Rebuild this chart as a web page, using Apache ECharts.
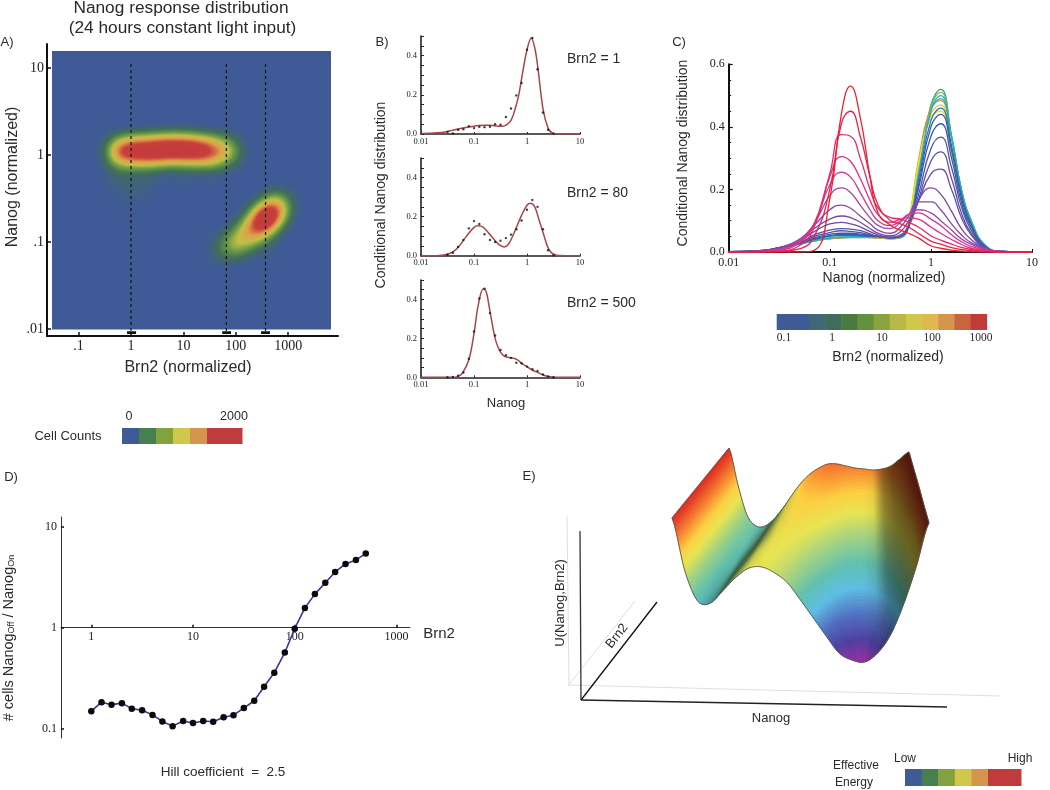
<!DOCTYPE html>
<html><head><meta charset="utf-8">
<style>html,body{margin:0;padding:0;background:#fff}#c{width:1050px;height:790px}</style>
<script src="https://cdn.jsdelivr.net/npm/echarts@6/dist/echarts.min.js"></script>
</head><body><div id="c"></div>
<script>
// ---------- Panel A: [log10 Brn2, log10 Nanog, cell count]
const heatPoints = [
 [-0.2,0.04,950],[0.06,0.05,1000],[0.29,0.05,1000],[0.52,0.06,1000],[0.74,0.07,1000],[0.97,0.07,1000],[1.2,0.06,1000],[1.43,0.05,900],[1.66,0.05,560],[1.85,0.04,440],
 [-0.25,-0.2,120],[0.1,-0.25,120],[0.45,-0.2,100],[1,-0.18,100],[1.5,-0.15,100],
 [-0.15,-0.42,55],[0.2,-0.44,45],
 [1.75,-1.08,170],[1.95,-1.03,290],[2.1,-0.98,410],[2.27,-0.88,560],[2.45,-0.79,850],[2.6,-0.71,1100],[2.74,-0.63,680],[2.83,-0.55,290],[2.55,-0.98,140]
];
const sliceBrn2 = [1, 66, 369];
const sliceBars = [[0.84,1.25],[55,81],[303,448]];
const aXTicks = [0.1,1,10,100,1000], aXLabels = ['.1','1','10','100','1000'];
const aYTicks = [0.01,0.1,1,10], aYLabels = ['.01','.1','1','10'];
const countColors = ['#3f5a96','#47804f','#83a13f','#d0c84a','#d6954d','#c03c3c'];
const countWidths = [17,17,17,17,17,35];

// ---------- Panel B
const b1CurveX = [0.01,0.02,0.03,0.05,0.07,0.1,0.15,0.2,0.3,0.35,0.4,0.5,0.6,0.7,0.8,1,1.2,1.4,1.6,2,2.5,3,4,10];
const b1CurveY = [0.002,0.006,0.012,0.025,0.033,0.04,0.045,0.045,0.04,0.04,0.045,0.07,0.13,0.2,0.29,0.43,0.49,0.44,0.34,0.13,0.03,0.005,0,0];
const b2CurveX = [0.01,0.02,0.03,0.04,0.05,0.07,0.1,0.12,0.15,0.2,0.25,0.3,0.37,0.45,0.6,0.8,1,1.15,1.4,1.7,2,2.5,3,4,10];
const b2CurveY = [0,0,0.006,0.02,0.042,0.095,0.145,0.153,0.145,0.108,0.077,0.055,0.045,0.06,0.13,0.21,0.258,0.268,0.25,0.18,0.12,0.04,0.012,0.001,0];
const b3CurveX = [0.01,0.04,0.05,0.06,0.08,0.1,0.12,0.15,0.17,0.2,0.25,0.3,0.35,0.4,0.5,0.6,0.7,0.8,1,1.3,1.6,2,2.5,3,4,10];
const b3CurveY = [0,0,0.005,0.02,0.09,0.225,0.37,0.455,0.44,0.34,0.2,0.14,0.115,0.105,0.1,0.095,0.085,0.07,0.055,0.035,0.025,0.012,0.004,0.001,0,0];
const bDotX = [0.0316,0.04,0.05,0.063,0.08,0.1,0.126,0.158,0.2,0.25,0.316,0.4,0.5,0.63,0.79,1,1.26,1.58,2,2.5,3.16];
const b1DotY = [0.01,0.003,0.022,0.024,0.04,0.03,0.037,0.035,0.037,0.05,0.047,0.087,0.13,0.197,0.26,0.43,0.49,0.33,0.11,0.022,0.002];
const b2DotY = [0.005,0.015,0.045,0.08,0.14,0.177,0.162,0.11,0.08,0.07,0.077,0.09,0.108,0.135,0.18,0.235,0.285,0.25,0.135,0.028,0.002];
const b3DotY = [0,0.002,0.008,0.025,0.095,0.235,0.405,0.455,0.33,0.215,0.14,0.113,0.1,0.075,0.072,0.055,0.042,0.033,0.015,0.005,0];

// ---------- Panel C
const cX = [0.01,0.02,0.03,0.05,0.07,0.1,0.13,0.16,0.2,0.25,0.3,0.4,0.5,0.6,0.75,1,1.25,1.6,2,2.5,3.5,5,10];
const cCurves = [
 ['#3f9f6a',[.001,.003,.01,.025,.035,.042,.045,.046,.046,.046,.045,.042,.045,.085,.26,.47,.52,.37,.2,.1,.018,.002,0]],
 ['#70c070',[.001,.003,.01,.025,.035,.043,.046,.047,.047,.047,.046,.043,.046,.085,.255,.465,.51,.37,.2,.1,.018,.002,0]],
 ['#f08a30',[.001,.003,.01,.025,.036,.043,.046,.047,.047,.046,.045,.043,.048,.098,.29,.46,.485,.33,.17,.08,.014,.001,0]],
 ['#e0d020',[.001,.003,.01,.025,.037,.044,.047,.048,.048,.047,.046,.044,.05,.1,.28,.44,.47,.32,.165,.078,.013,.001,0]],
 ['#f0e020',[.001,.003,.01,.025,.037,.045,.048,.049,.049,.048,.047,.044,.05,.1,.275,.43,.45,.31,.16,.075,.013,.001,0]],
 ['#30b0a8',[.001,.003,.01,.025,.036,.044,.047,.048,.048,.048,.047,.045,.048,.08,.24,.455,.5,.37,.2,.1,.019,.002,0]],
 ['#28b0c8',[.001,.003,.01,.026,.037,.045,.048,.049,.049,.049,.048,.046,.049,.08,.235,.45,.49,.365,.2,.1,.019,.002,0]],
 ['#2f70b8',[.001,.003,.011,.026,.04,.05,.053,.053,.052,.05,.049,.046,.05,.082,.225,.42,.46,.34,.185,.09,.017,.002,0]],
 ['#3a5cb0',[.001,.004,.011,.027,.042,.052,.056,.056,.054,.052,.05,.046,.05,.08,.21,.4,.44,.325,.175,.085,.016,.002,0]],
 ['#3f58aa',[.001,.004,.012,.028,.045,.056,.06,.06,.057,.053,.05,.045,.05,.08,.2,.37,.41,.3,.16,.08,.015,.002,0]],
 ['#4c54aa',[.001,.004,.012,.03,.05,.062,.068,.066,.062,.055,.05,.045,.05,.08,.18,.33,.367,.27,.145,.07,.013,.001,0]],
 ['#5a50aa',[.001,.004,.012,.03,.055,.07,.075,.073,.068,.058,.05,.045,.05,.08,.165,.29,.32,.235,.125,.06,.012,.001,0]],
 ['#6a4aaa',[.001,.004,.012,.035,.065,.09,.095,.09,.08,.065,.055,.048,.055,.085,.16,.25,.265,.2,.11,.055,.012,.001,0]],
 ['#7848a8',[0,.004,.012,.04,.075,.105,.115,.11,.095,.075,.06,.052,.065,.1,.165,.205,.185,.13,.075,.04,.01,.001,0]],
 ['#8848a8',[0,.003,.01,.04,.085,.135,.15,.14,.115,.09,.07,.06,.08,.115,.16,.16,.135,.09,.055,.03,.01,.002,0]],
 ['#a844a0',[0,.002,.008,.04,.09,.18,.205,.19,.15,.11,.085,.075,.095,.12,.135,.125,.1,.07,.042,.025,.008,.002,0]],
 ['#d03898',[0,.002,.006,.035,.09,.215,.255,.24,.19,.135,.1,.085,.1,.12,.125,.105,.085,.055,.033,.018,.006,.001,0]],
 ['#e03088',[0,.002,.005,.03,.09,.24,.305,.29,.235,.165,.12,.095,.105,.11,.105,.08,.06,.04,.024,.012,.004,.001,0]],
 ['#e82868',[0,.001,.003,.02,.08,.25,.375,.37,.3,.2,.14,.11,.105,.095,.08,.052,.038,.025,.015,.008,.002,0,0]],
 ['#ea2048',[0,0,.001,.01,.05,.2,.41,.45,.37,.24,.15,.1,.09,.08,.06,.035,.025,.014,.008,.004,.001,0,0]],
 ['#ee2030',[0,0,0,0,.005,.17,.44,.53,.43,.24,.125,.085,.07,.06,.045,.02,.012,.006,.003,.001,0,0,0]]
];
const brn2BarColors = ['#3f5a96','#3f5a96','#40667a','#3f6d5c','#4a7a40','#65903f','#8aa33f','#b7b845','#d0c84a','#e0b84f','#d6954d','#c8653f','#c03c3c'];

// ---------- Panel D
const dX = [1,1.26,1.58,2,2.5,3.16,4,5,6.3,8,10,12.6,15.8,20,25,31.6,40,50,63,80,100,126,158,200,250,316,400,500];
const dY = [.149,.183,.173,.179,.158,.152,.137,.118,.106,.119,.114,.119,.117,.13,.136,.16,.189,.26,.359,.568,.977,1.57,2.15,2.79,3.56,4.28,4.69,5.42];

// ---------- Panel E: effective energy, rows front (Brn2 low) to back, columns along Nanog
const energy = [
 [144,91,61,59,72,85,94,95,89,79,62,44,26,9,2,0,9,27,57,95,139],
 [144,95,65,61,70,82,92,96,94,89,78,65,51,38,32,31,37,51,74,104,139],
 [144,99,69,62,69,79,89,96,99,98,93,86,77,68,63,62,66,75,92,114,140],
 [144,103,73,64,67,76,87,97,104,108,108,107,102,97,93,92,94,99,109,123,140],
 [144,107,77,66,66,73,84,97,109,118,124,128,128,126,124,123,122,123,126,133,140]
];
const lightness = [
 [1,1,1,.75,.5,.75,.95,1,1,1,1,1,1,1,1,1,.85,.65,.52,.42,.36],
 [1,1,1,.85,.45,.55,.88,1,1,1,1,1,1,1,1,1,.9,.62,.5,.42,.36],
 [1,1,1,.95,.55,.45,.72,.95,1,1,1,1,1,1,1,1,.92,.6,.48,.4,.36],
 [1,1,1,1,.72,.42,.62,.9,1,1,1,1,1,1,1,1,.95,.6,.46,.4,.36],
 [1,1,1,1,.8,.5,.62,.88,1,1,1,1,1,1,1,1,.95,.6,.45,.4,.36]
];
const energyStops = [[0,'#962aa0'],[14,'#4b3f9e'],[30,'#4f6fc0'],[47,'#5cbde4'],[63,'#5fc0ae'],[80,'#a2d280'],[95,'#e8e450'],[108,'#fbcf40'],[122,'#f98a30'],[136,'#e84a25'],[146,'#d81e1e']];
const energyBarColors = ['#3f5a96','#47804f','#83a13f','#d0c84a','#d6954d','#c03c3c'];
const energyBarWidths = [16.6,16.6,16.6,16.6,16.6,33];

const SERIF = '"Liberation Serif",serif', SANS = '"Liberation Sans",Arial,sans-serif';
const INK = '#222';

const zip = (a,b)=>a.map((v,i)=>[v,b[i]]);

// surface projection (perspective footprint, height lifted on screen)
function project(u,v,h){
  const fx=672+257*u, bx=729+180*u;
  return [fx+(bx-fx)*v, 662-70*v-h];
}
function cr(p0,p1,p2,p3,t){
  return 0.5*((2*p1)+(-p0+p2)*t+(2*p0-5*p1+4*p2-p3)*t*t+(-p0+3*p1-3*p2+p3)*t*t*t);
}
function heightAt(u,v){
  const nc=energy[0].length-1,nr=energy.length-1;
  const cu=Math.min(u*nc,nc-1e-6),cv=Math.min(v*nr,nr-1e-6);
  const i=Math.floor(cu),j=Math.floor(cv),t=cu-i,s=cv-j;
  const row=r=>{const R=energy[r];return cr(R[Math.max(i-1,0)],R[i],R[i+1],R[Math.min(i+2,nc)],t);};
  return row(j)*(1-s)+row(j+1)*s;
}
function lightAt(u,v){
  const nc=energy[0].length-1,nr=energy.length-1;
  const cu=Math.min(u*nc,nc-1e-6),cv=Math.min(v*nr,nr-1e-6);
  const i=Math.floor(cu),j=Math.floor(cv),t=cu-i,s=cv-j;
  const row=r=>lightness[r][i]*(1-t)+lightness[r][i+1]*t;
  return row(j)*(1-s)+row(j+1)*s;
}
function hexRgb(h){return [1,3,5].map(k=>parseInt(h.substr(k,2),16));}
function energyColor(h,l){
  let a=energyStops[0],b=energyStops[energyStops.length-1];
  for(let k=0;k<energyStops.length-1;k++){if(h>=energyStops[k][0]&&h<=energyStops[k+1][0]){a=energyStops[k];b=energyStops[k+1];break;}}
  const t=Math.max(0,Math.min(1,(h-a[0])/(b[0]-a[0]))),A=hexRgb(a[1]),B=hexRgb(b[1]);
  return 'rgb('+A.map((c,k)=>Math.round((c+(B[k]-c)*t)*l)).join(',')+')';
}
// back cells first so nearer ones paint over
const surfaceCells=[];
for(let j=energy.length-2;j>=0;j--)for(let i=0;i<energy[0].length-1;i++)surfaceCells.push([i,j]);

function renderCell(params,api){
  const i=api.value(0),j=api.value(1),nc=energy[0].length-1,nr=energy.length-1;
  const SU=(i<3||i>16)?16:6,SV=14,children=[];
  for(let b=SV-1;b>=0;b--)for(let a=0;a<SU;a++){
    const u0=(i+a/SU)/nc,u1=(i+(a+1)/SU)/nc,v0=(j+b/SV)/nr,v1=(j+(b+1)/SV)/nr;
    const pts=[[u0,v0],[u1,v0],[u1,v1],[u0,v1]].map(q=>api.coord(project(q[0],q[1],heightAt(q[0],q[1]))));
    const um=(u0+u1)/2,vm=(v0+v1)/2,col=energyColor(heightAt(um,vm),lightAt(um,vm));
    children.push({type:'polygon',shape:{points:pts},style:{fill:col,stroke:col,lineWidth:0.7},silent:true});
  }
  return {type:'group',children};
}
function renderOutline(params,api){
  const pts=[];const N=120;
  for(let k=0;k<=N;k++){const u=k/N;pts.push(project(u,0,heightAt(u,0)));}
  for(let k=0;k<=N;k++){const v=k/N;pts.push(project(1,v,heightAt(1,v)));}
  for(let k=N;k>=0;k--){const u=k/N;pts.push(project(u,1,heightAt(u,1)));}
  for(let k=N;k>=0;k--){const v=k/N;pts.push(project(0,v,heightAt(0,v)));}
  return {type:'polyline',shape:{points:pts.map(p=>api.coord(p))},style:{fill:null,stroke:'#5a5a50',lineWidth:0.9},silent:true};
}

echarts.registerMap('sheet',{type:'FeatureCollection',features:[{type:'Feature',properties:{name:'plot'},
 geometry:{type:'Polygon',coordinates:[[[-1.508,-2.006],[3.817,-2.006],[3.817,1.195],[-1.508,1.195],[-1.508,-2.006]]]}}]});

const el=echarts.init(document.getElementById('c'),null,{renderer:'canvas'});

const grids=[
 {left:47,top:44,width:291,height:292},
 {left:421,top:36,width:159,height:98},
 {left:421,top:158,width:159,height:97.7},
 {left:421,top:280,width:159,height:97.3},
 {left:728.7,top:64.3,width:303.3,height:187.7},
 {left:61,top:517,width:349,height:221},
 {left:0,top:0,width:1050,height:790}
];
function bAxisX(idx){return {type:'log',gridIndex:idx,min:0.01,max:10,logBase:10,splitLine:{show:false},
 axisLine:{lineStyle:{color:'#222',width:1.6}},axisTick:{inside:true,length:2,lineStyle:{color:'#222'}},
 axisLabel:{fontFamily:SERIF,fontSize:8.5,color:INK,margin:3,showMinLabel:true,showMaxLabel:true,formatter:v=>String(v)},minorTick:{show:false}};}
function bAxisY(idx){return {type:'value',gridIndex:idx,min:0,max:0.5,splitLine:{show:false},
 axisLine:{show:true,lineStyle:{color:'#222',width:1.6}},
 axisTick:{show:true,inside:true,length:3,customValues:[0,.05,.1,.15,.2,.25,.3,.35,.4,.45,.5],lineStyle:{color:'#222'}},
 axisLabel:{customValues:[0,.2,.4],fontFamily:SERIF,fontSize:8.5,color:INK,margin:4,formatter:v=>v.toFixed(1)},
 minorTick:{show:false}};}

const xAxes=[
 {type:'log',gridIndex:0,min:0.02494,max:8913,splitLine:{show:false},axisLine:{lineStyle:{color:'#111',width:2}},
  axisTick:{inside:true,length:4,customValues:aXTicks,lineStyle:{color:'#111',width:1.5}},
  axisLabel:{customValues:aXTicks,fontFamily:SERIF,fontSize:14,color:INK,margin:3,formatter:v=>aXLabels[aXTicks.findIndex(t=>Math.abs(t-v)/t<1e-6)]||''}},
 bAxisX(1),bAxisX(2),bAxisX(3),
 {type:'log',gridIndex:4,min:0.01,max:10,splitLine:{show:false},axisLine:{lineStyle:{color:'#111',width:2}},
  axisTick:{inside:true,length:3,lineStyle:{color:'#111'}},
  axisLabel:{fontFamily:SERIF,fontSize:12,color:INK,margin:5,showMinLabel:true,showMaxLabel:true,formatter:v=>String(v)}},
 {type:'log',gridIndex:5,min:0.5035,max:1361,offset:-110.3,splitLine:{show:false},axisLine:{lineStyle:{color:'#333',width:1}},
  axisTick:{inside:true,length:3,customValues:[1,10,100,1000],lineStyle:{color:'#111',width:1.5}},
  axisLabel:{customValues:[1,10,100,1000],fontFamily:SERIF,fontSize:12,color:INK,margin:3,formatter:v=>String(Math.round(v))}},
 {type:'value',gridIndex:6,min:0,max:1050,show:false}
];
const yAxes=[
 {type:'log',gridIndex:0,min:0.00832,max:18.9,splitLine:{show:false},axisLine:{lineStyle:{color:'#111',width:2}},
  axisTick:{inside:true,length:4,customValues:aYTicks,lineStyle:{color:'#111',width:1.5}},
  axisLabel:{customValues:aYTicks,fontFamily:SERIF,fontSize:14,color:INK,margin:3,formatter:v=>aYLabels[aYTicks.findIndex(t=>Math.abs(t-v)/t<1e-6)]||''}},
 bAxisY(1),bAxisY(2),bAxisY(3),
 {type:'value',gridIndex:4,min:0,max:0.6,interval:0.2,splitLine:{show:false},axisLine:{show:true,lineStyle:{color:'#111',width:2}},
  axisTick:{show:true,inside:true,length:4,lineStyle:{color:'#111',width:1.2}},minorTick:{show:true,splitNumber:4,length:2.5,lineStyle:{color:'#111'}},
  axisLabel:{fontFamily:SERIF,fontSize:12,color:INK,margin:4,formatter:v=>v.toFixed(1)}},
 {type:'log',gridIndex:5,min:0.0809,max:12.47,splitLine:{show:false},axisLine:{lineStyle:{color:'#333',width:1}},
  axisTick:{inside:true,length:3,customValues:[0.1,1,10],lineStyle:{color:'#111',width:1.5}},
  axisLabel:{customValues:[0.1,1,10],fontFamily:SERIF,fontSize:12,color:INK,margin:4,formatter:v=>String(+v.toPrecision(2))}},
 {type:'value',gridIndex:6,min:0,max:790,inverse:true,show:false}
];

const series=[];
series.push({type:'heatmap',coordinateSystem:'geo',geoIndex:0,data:heatPoints,pointSize:11,blurSize:18,minOpacity:1,maxOpacity:1,silent:true,z:3});
const heatIdx=0;
sliceBrn2.forEach(x=>series.push({type:'line',xAxisIndex:0,yAxisIndex:0,data:[[x,0.0095],[x,11.7]],showSymbol:false,silent:true,z:5,clip:false,
  lineStyle:{color:'#111',width:1.2,type:[3,3]}}));
sliceBars.forEach(b=>series.push({type:'line',xAxisIndex:0,yAxisIndex:0,data:[[b[0],0.0091],[b[1],0.0091]],showSymbol:false,silent:true,z:6,clip:false,
  lineStyle:{color:'#111',width:2.6}}));
[[1,b1CurveX,b1CurveY,b1DotY],[2,b2CurveX,b2CurveY,b2DotY],[3,b3CurveX,b3CurveY,b3DotY]].forEach(r=>{
  series.push({type:'line',xAxisIndex:r[0],yAxisIndex:r[0],data:zip(r[1],r[2]),smooth:0.35,showSymbol:false,silent:true,lineStyle:{color:'#a8454c',width:1.5}});
  series.push({type:'scatter',xAxisIndex:r[0],yAxisIndex:r[0],data:zip(bDotX,r[3]),symbolSize:2.4,silent:true,itemStyle:{color:'#111'},z:4});
});
cCurves.forEach(c=>series.push({type:'line',xAxisIndex:4,yAxisIndex:4,data:zip(cX,c[1]),smooth:0.5,showSymbol:false,silent:true,lineStyle:{color:c[0],width:1.3}}));
series.push({type:'line',xAxisIndex:5,yAxisIndex:5,data:zip(dX,dY),showSymbol:true,symbol:'circle',symbolSize:6.5,silent:true,
  lineStyle:{color:'#36369c',width:1.6},itemStyle:{color:'#0b0b0b'},z:4});
// panel E axes
const e3dAxes=[
 {pts:[[567,516],[569,686]],c:'#dfdfdf',w:1},{pts:[[568,686],[635,601]],c:'#dfdfdf',w:1},{pts:[[568,685],[1000,696]],c:'#dfdfdf',w:1},
 {pts:[[580,531],[581,700]],c:'#333',w:1.3},{pts:[[581,700],[657,602]],c:'#111',w:1.3},{pts:[[581,700],[947,707]],c:'#222',w:1.4}
];
e3dAxes.forEach(a=>series.push({type:'line',xAxisIndex:6,yAxisIndex:6,data:a.pts,showSymbol:false,silent:true,lineStyle:{color:a.c,width:a.w}}));
series.push({type:'custom',xAxisIndex:6,yAxisIndex:6,data:surfaceCells,renderItem:renderCell,silent:true,z:3,clip:false});
series.push({type:'custom',xAxisIndex:6,yAxisIndex:6,data:[[0,0]],renderItem:renderOutline,silent:true,z:4,clip:false});

// text and colour keys
const gfx=[];
function T(text,x,y,size,o){o=o||{};
  gfx.push({type:'text',x,y,rotation:o.rot||0,silent:true,z:20,style:{text,fontSize:size,fontFamily:o.font||SANS,fill:o.fill||'#2a2a2a',
    align:o.align||'center',textAlign:o.align||'center',verticalAlign:'middle',textVerticalAlign:'middle',rich:o.rich}});
}
const up=Math.PI/2;
T('Nanog response distribution',181,8,17.3);
T('(24 hours constant light input)',182.5,28,17.3);
T('A)',7,42,13);T('B)',382,42,13);T('C)',679,42,13);T('D)',11,477,13);T('E)',529,476,13);
T('Nanog (normalized)',13,177,16,{rot:up});
T('Brn2 (normalized)',188,368,16);
T('Cell Counts',68,436,13);T('0',129,417,12.5);T('2000',234,417,12.5);
T('Conditional Nanog distribution',381,195,14,{rot:up});
T('Brn2 = 1',567,59,14,{align:'left'});T('Brn2 = 80',567,193,14,{align:'left'});T('Brn2 = 500',567,303,14,{align:'left'});
T('Nanog',506,403,13);
T('Conditional Nanog distribution',683,153,14,{rot:up});
T('Nanog (normalized)',884,278,14);
[['0.1',784],['1',832],['10',882],['100',932],['1000',981]].forEach(p=>T(p[0],p[1],338,11.5,{font:SERIF}));
T('Brn2 (normalized)',888,357,14);
T('# cells Nanog{s|Off} / Nanog{s|On}',9,638,14.5,{rot:up,rich:{s:{fontSize:9,fontFamily:SANS,fill:'#2a2a2a',verticalAlign:'bottom',padding:[5,0,0,0]}}});
T('Brn2',439,634,15);
T('Hill coefficient  =  2.5',223,772,13.5);
T('U(Nanog,Brn2)',560,603,13,{rot:up});
T('Brn2',617,636,13,{rot:0.9});
T('Nanog',771,718,13);
T('Effective',856,766,12);T('Energy',854,783,12);T('Low',905,759,12);T('High',1020,759,12);
function colorKey(x,y,h,colors,widths){let p=x;colors.forEach((c,i)=>{gfx.push({type:'rect',silent:true,z:10,shape:{x:p,y,width:widths[i]+0.5,height:h},style:{fill:c}});p+=widths[i];});}
colorKey(122,428,16,countColors,countWidths);
colorKey(776.7,314,16,brn2BarColors,brn2BarColors.map(()=>16.15));
colorKey(905,769,17,energyBarColors,energyBarWidths);

el.setOption({
 animation:false,
 grid:grids,xAxis:xAxes,yAxis:yAxes,
 geo:{map:'sheet',aspectScale:0.6022,layoutCenter:[191.5,190.25],layoutSize:279,roam:false,silent:true,z:1,
  label:{show:false},itemStyle:{areaColor:'#3f5a96',borderWidth:0},emphasis:{disabled:true},select:{disabled:true}},
 visualMap:{show:false,seriesIndex:heatIdx,min:0,max:1100,calculable:false,
  inRange:{color:['#3f5a96','#417055','#6a9a47','#c2bf47','#dfa049','#c93f3c','#c23a3a','#c23a3a','#c23a3a']}},
 series,graphic:{elements:gfx}
});
</script></body></html>
